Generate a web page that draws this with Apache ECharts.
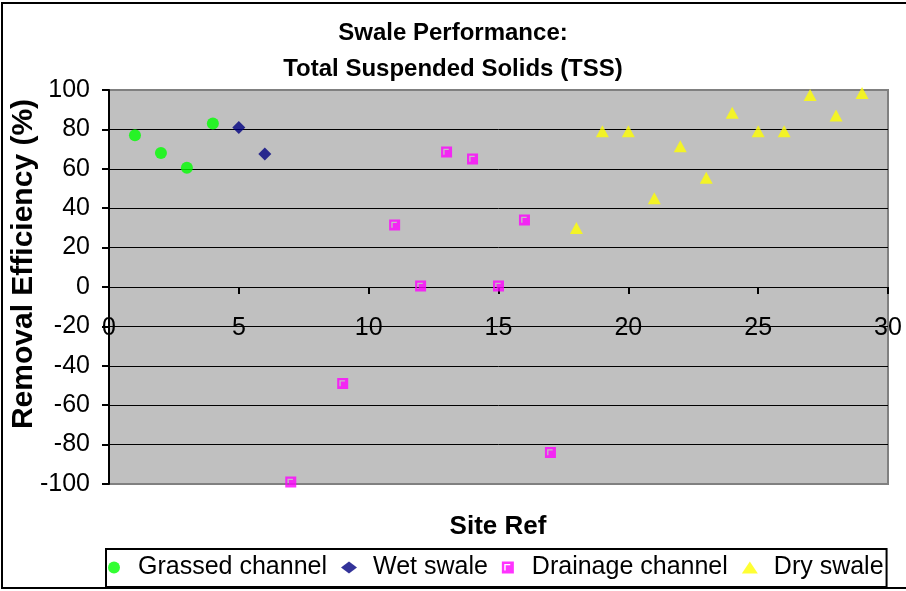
<!DOCTYPE html>
<html>
<head>
<meta charset="utf-8">
<script src="https://cdn.jsdelivr.net/npm/echarts@6/dist/echarts.min.js"></script>
<style>
html,body{margin:0;padding:0;background:#fff;}
#c{width:906px;height:591px;}
</style>
</head>
<body>
<div id="c"></div>
<script>
// ---- data ----
const grassedX = [1, 2, 3, 4];
const grassedY = [77, 68, 60.5, 83];
const wetX = [5, 6];
const wetY = [81, 67.5];
const drainX = [7, 9, 11, 12, 13, 14, 15, 16, 17];
const drainY = [-99, -49, 31.5, 0.5, 68.5, 65, 0.5, 34, -84];
const dryX = [18, 19, 20, 21, 22, 23, 24, 25, 26, 27, 28, 29];
const dryY = [30, 79, 79, 45, 71.5, 55.5, 88.5, 79, 79, 97.5, 87, 98.5];
const seriesNames = ['Grassed channel', 'Wet swale', 'Drainage channel', 'Dry swale'];
const titleLines = ['Swale Performance:', 'Total Suspended Solids (TSS)'];
const xName = 'Site Ref';
const yName = 'Removal Efficiency (%)';

const pairs = (xs, ys) => xs.map((x, i) => [x, ys[i]]);
const FONT = '"Liberation Sans", Arial, sans-serif';

// square marker with a light "Γ" inset (hole, opposite winding)
const drainSymbol = 'path://M0,0 L10,0 L10,10 L0,10 Z M2,2 L2,7.5 L3.2,7.5 L3.2,3.2 L7,3.2 L7,2 Z';

const splitColors = ['#808080', '#000', '#000', '#000', '#000', '#000', '#000', '#000', '#000', '#000', '#808080'];

const chart = echarts.init(document.getElementById('c'), null, {renderer: 'canvas'});
chart.setOption({
  backgroundColor: '#fff',
  animation: false,
  textStyle: {fontFamily: FONT},
  title: {
    text: titleLines.join('\n'),
    left: 448,
    top: 10,
    textAlign: 'center',
    textStyle: {fontSize: 24, fontWeight: 'bold', color: '#000', lineHeight: 36, fontFamily: FONT}
  },
  grid: {
    left: 109, top: 90, right: 18, bottom: 107,
    show: true, backgroundColor: '#C0C0C0', borderColor: '#808080', borderWidth: 2,
    containLabel: false
  },
  xAxis: {
    type: 'value', min: 0, max: 30, interval: 5,
    position: 'bottom', offset: -197,
    axisLine: {show: true, onZero: false, lineStyle: {color: '#000', width: 1}},
    axisTick: {show: true, inside: false, length: 7, lineStyle: {color: '#000', width: 2}},
    axisLabel: {fontSize: 25, color: '#000', margin: 29, fontFamily: FONT},
    splitLine: {show: false}
  },
  yAxis: {
    type: 'value', min: -100, max: 100, interval: 20,
    axisLine: {show: true, onZero: false, lineStyle: {color: '#000', width: 2}},
    axisTick: {show: true, length: 7, lineStyle: {color: '#000', width: 2}},
    axisLabel: {fontSize: 25, color: '#000', margin: 19, fontFamily: FONT},
    splitLine: {show: true, lineStyle: {color: splitColors, width: 1}}
  },
  legend: {
    data: seriesNames,
    left: 106, top: 549,
    orient: 'horizontal',
    itemWidth: 16, itemHeight: 12, itemGap: 14,
    padding: [6, 3, 7, 2],
    borderColor: '#000', borderWidth: 2,
    backgroundColor: '#fff',
    textStyle: {fontSize: 25, color: '#000', fontFamily: FONT, padding: [0, 0, 0, 11]}
  },
  graphic: [
    {
      type: 'rect', silent: true, z: 100,
      shape: {x: 2, y: 3, width: 910, height: 585},
      style: {fill: 'none', stroke: '#000', lineWidth: 2}
    },
    {
      type: 'text', silent: true, z: 100,
      x: 498, y: 527,
      style: {text: xName, font: 'bold 26px ' + FONT, fill: '#000', textAlign: 'center', textVerticalAlign: 'middle'}
    },
    {
      type: 'text', silent: true, z: 100,
      x: 24, y: 264, rotation: Math.PI / 2,
      style: {text: yName, font: 'bold 30px ' + FONT, fill: '#000', textAlign: 'center', textVerticalAlign: 'middle'}
    }
  ],
  series: [
    {
      name: seriesNames[0], type: 'scatter', data: pairs(grassedX, grassedY),
      symbol: 'circle', symbolSize: 12,
      itemStyle: {color: '#00FF00'}
    },
    {
      name: seriesNames[1], type: 'scatter', data: pairs(wetX, wetY),
      symbol: 'diamond', symbolSize: 13,
      itemStyle: {color: '#000080'}
    },
    {
      name: seriesNames[2], type: 'scatter', data: pairs(drainX, drainY),
      symbol: drainSymbol, symbolSize: 11,
      itemStyle: {color: '#FF00FF'}
    },
    {
      name: seriesNames[3], type: 'scatter', data: pairs(dryX, dryY),
      symbol: 'triangle', symbolSize: [13, 12],
      itemStyle: {color: '#FFFF00'}
    }
  ]
});
</script>
</body>
</html>
